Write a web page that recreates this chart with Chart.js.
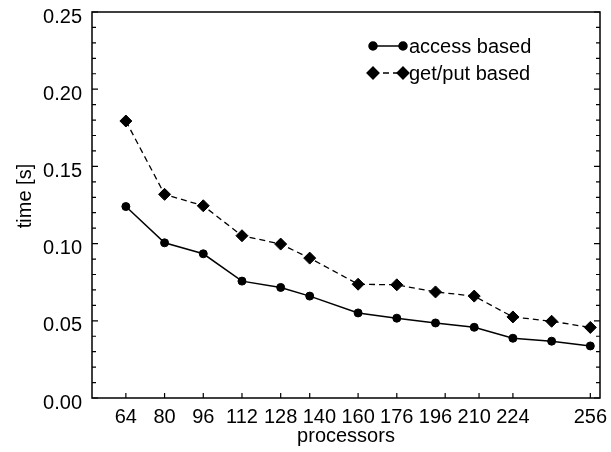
<!DOCTYPE html>
<html>
<head>
<meta charset="utf-8">
<script src="https://cdn.jsdelivr.net/npm/chart.js@4/dist/chart.umd.min.js"></script>
<style>
  body { margin: 0; background: #fff; }
  #box { width: 611px; height: 452px; }
</style>
</head>
<body>
<div id="box"><canvas id="grafico" width="611" height="452"></canvas></div>
<script>
// data
const processadores = [64, 80, 96, 112, 128, 140, 160, 176, 192, 208, 224, 240, 256]
const acessoBased = [0.124, 0.1005, 0.0934, 0.0757, 0.0716, 0.0660, 0.0551, 0.0517, 0.0486, 0.0458, 0.0387, 0.0368, 0.0337]
const getPutBased = [0.1794, 0.1319, 0.1245, 0.1051, 0.0997, 0.0906, 0.0737, 0.0733, 0.0687, 0.0660, 0.0525, 0.0497, 0.0457]
// tick marks on the bottom axis
const xTicks = [64, 80, 96, 112, 128, 140, 160, 176, 196, 210, 224, 256]
// the labels in the original sit every 16 processors (240 left empty)
const xLabelPos = [64, 80, 96, 112, 128, 144, 160, 176, 192, 208, 224, 256]
const xLabels = ['64', '80', '96', '112', '128', '140', '160', '176', '196', '210', '224', '256']
const nomes = ['access based', 'get/put based']
const tituloY = 'time [s]'

const fonte = 'Liberation Sans, Arial, sans-serif'
Chart.defaults.font.family = fonte
Chart.defaults.color = '#000'

function pares(xs, ys) {
    return xs.map((x, i) => ({ x: x, y: ys[i] }))
}

// ticks pointing inside + box frame + y title
const moldura = {
    id: 'moldura',
    afterDraw(chart) {
        const ctx = chart.ctx
        const a = chart.chartArea
        const sx = chart.scales.x
        const sy = chart.scales.y
        ctx.save()
        ctx.strokeStyle = '#000'
        ctx.lineWidth = 1.5
        ctx.strokeRect(a.left, a.top, a.right - a.left, a.bottom - a.top)
        ctx.lineWidth = 1.2
        ctx.beginPath()
        for (let i = 0; i <= 25; i++) {
            const y = sy.getPixelForValue(i / 100)
            const len = i % 5 == 0 ? 6 : 4
            ctx.moveTo(a.left, y); ctx.lineTo(a.left + len, y)
            ctx.moveTo(a.right, y); ctx.lineTo(a.right - len, y)
        }
        xTicks.forEach(v => {
            const x = sx.getPixelForValue(v)
            ctx.moveTo(x, a.bottom); ctx.lineTo(x, a.bottom - 5)
        })
        ctx.stroke()

        // titulo do eixo y
        ctx.translate(25, 196)
        ctx.rotate(-Math.PI / 2)
        ctx.font = '20px ' + fonte
        ctx.textAlign = 'center'
        ctx.textBaseline = 'middle'
        ctx.fillStyle = '#000'
        ctx.fillText(tituloY, 0, 0)
        ctx.restore()
    }
}

// legend drawn like the original: line with two markers, then text
const legenda = {
    id: 'legenda',
    afterDraw(chart) {
        const ctx = chart.ctx
        ctx.save()
        ctx.font = '20px ' + fonte
        ctx.textBaseline = 'middle'
        ctx.fillStyle = '#000'
        chart.data.datasets.forEach((ds, i) => {
            const y = 46 + i * 27
            const x0 = 373, x1 = 403
            ctx.strokeStyle = '#000'
            ctx.lineWidth = ds.borderWidth
            ctx.setLineDash(ds.borderDash || [])
            ctx.beginPath()
            ctx.moveTo(x0, y); ctx.lineTo(x1, y)
            ctx.stroke()
            ctx.setLineDash([])
            Chart.helpers.drawPoint(ctx, { pointStyle: ds.pointStyle, radius: ds.pointRadius, borderWidth: 1 }, x0, y)
            Chart.helpers.drawPoint(ctx, { pointStyle: ds.pointStyle, radius: ds.pointRadius, borderWidth: 1 }, x1, y)
            ctx.fillText(ds.label, x1 + 6, y + 1)
        })
        ctx.restore()
    }
}

const grafico = document.getElementById('grafico')

new Chart(grafico, {
    type: 'line',
    data: {
        datasets: [
            {
                label: nomes[0],
                data: pares(processadores, acessoBased),
                borderColor: '#000',
                backgroundColor: '#000',
                borderWidth: 1.5,
                pointStyle: 'circle',
                pointRadius: 4,
                pointBorderWidth: 1
            },
            {
                label: nomes[1],
                data: pares(processadores, getPutBased),
                borderColor: '#000',
                backgroundColor: '#000',
                borderWidth: 1.3,
                borderDash: [6, 4],
                pointStyle: 'rectRot',
                pointRadius: 6,
                pointBorderWidth: 1
            }
        ]
    },
    options: {
        responsive: false,
        animation: false,
        layout: { padding: { left: 0, right: 11, top: 12, bottom: 0 } },
        plugins: {
            legend: { display: false },
            tooltip: { enabled: false }
        },
        scales: {
            x: {
                type: 'linear',
                min: 50,
                max: 260,
                afterBuildTicks: s => { s.ticks = xLabelPos.map(v => ({ value: v })) },
                afterFit: s => { s.height = 54; s.paddingLeft = 0; s.paddingRight = 0 },
                grid: { display: false, drawTicks: false },
                border: { display: false },
                ticks: {
                    autoSkip: false,
                    maxRotation: 0,
                    padding: 7,
                    font: { size: 20 },
                    callback: (v, i) => xLabels[i]
                },
                title: {
                    display: true,
                    text: 'processors',
                    font: { size: 20 },
                    padding: { top: 0, bottom: 4 }
                }
            },
            y: {
                min: 0,
                max: 0.25,
                afterFit: s => { s.width = 92; s.paddingTop = 0; s.paddingBottom = 0 },
                grid: { display: false, drawTicks: false },
                border: { display: false },
                ticks: {
                    stepSize: 0.05,
                    padding: 10,
                    labelOffset: 5,
                    font: { size: 20 },
                    callback: v => v.toFixed(2)
                }
            }
        }
    },
    plugins: [moldura, legenda]
})
</script>
</body>
</html>
